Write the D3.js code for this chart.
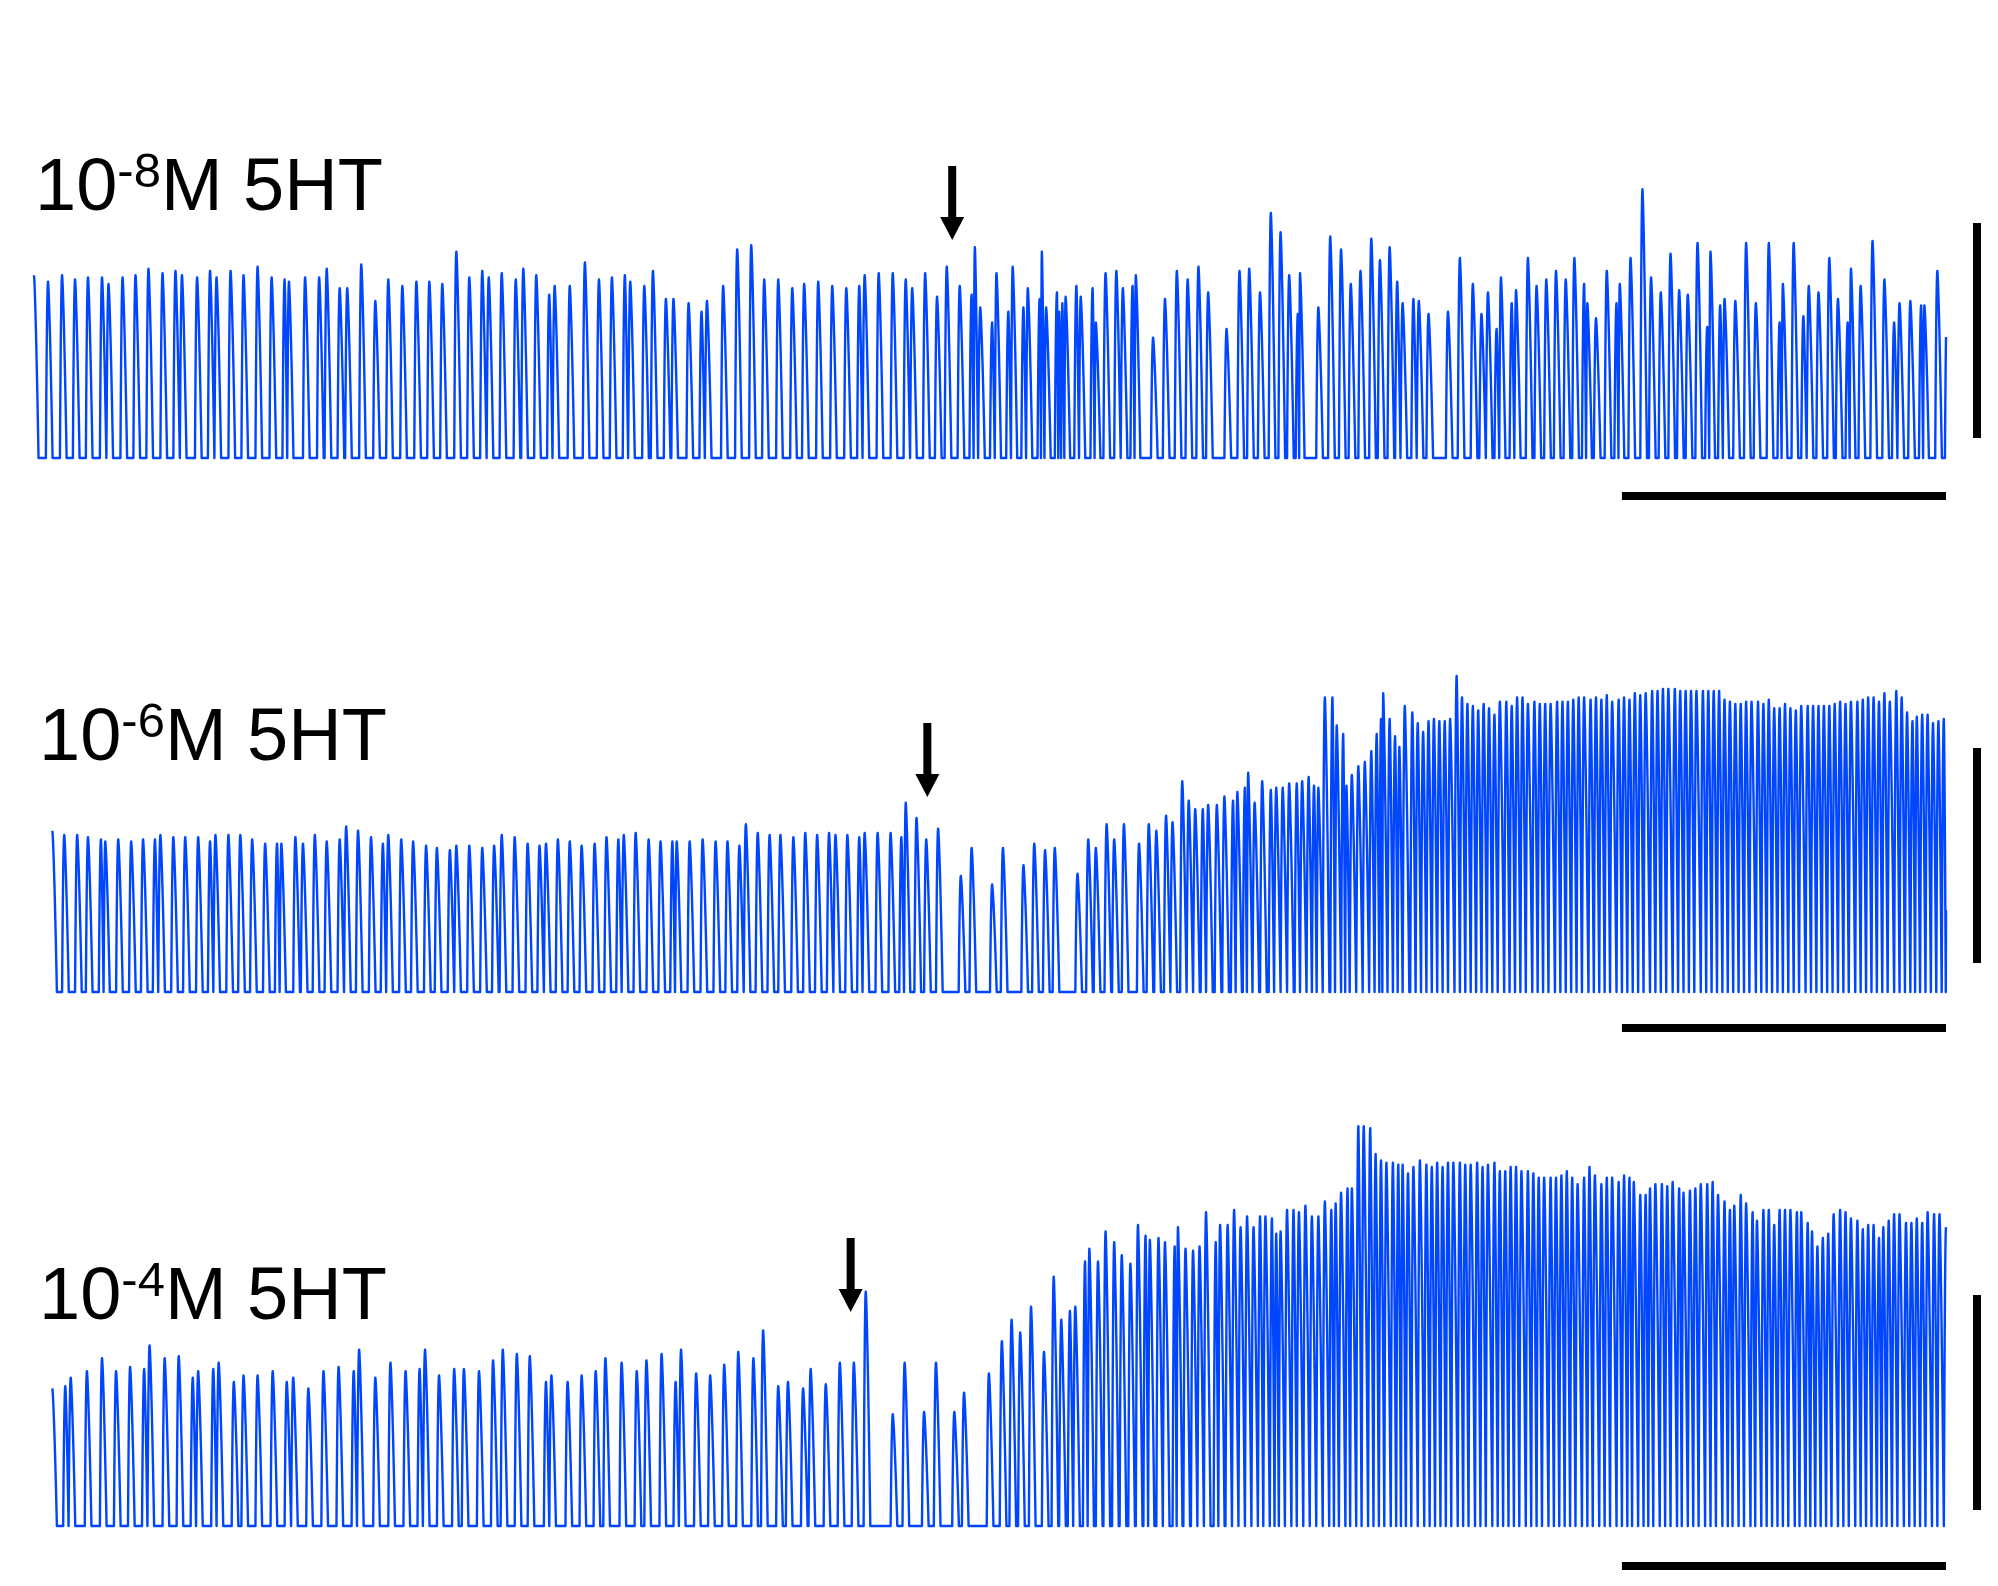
<!DOCTYPE html>
<html><head><meta charset="utf-8">
<script src="https://cdn.jsdelivr.net/npm/d3@7"></script>
<style>html,body{margin:0;padding:0;background:#fff;} svg{display:block}</style>
</head><body>
<svg id="chart" width="1998" height="1586"></svg>
<script>
// ---------------- DATA ----------------
// Panel labels: 10^exp M 5HT
const LABEL_EXPONENTS = ["-8", "-6", "-4"];
const LABEL_BASE = "10";
const LABEL_UNIT = "M 5HT";

// Peak times (s) and peak amplitudes (units of the vertical scale bar) for each trace
const T1_TIMES = [0,13,26,38,50,63,69,82,94,106,
119,131,137,151,163,169,182,194,207,220,
232,236,251,264,271,283,290,303,316,328,
341,354,366,378,391,403,415,421,433,446,
453,465,477,482,496,510,523,535,547,552,
565,573,585,592,606,618,623,638,651,664,
676,689,702,713,726,739,752,764,769,782,
795,807,813,825,836,845,857,868,871,876,
887,891,902,906,916,920,931,933,937,947,
949,952,955,965,969,980,983,992,1002,1008,
1017,1020,1036,1047,1058,1068,1078,1087,1104,1116,
1125,1135,1145,1154,1162,1170,1172,1189,1200,1210,
1219,1228,1238,1246,1255,1262,1267,1277,1282,1291,
1309,1320,1332,1340,1346,1354,1358,1368,1372,1383,
1391,1400,1409,1418,1426,1435,1438,1446,1456,1465,
1468,1478,1489,1497,1506,1515,1523,1531,1540,1549,
1552,1561,1565,1575,1585,1594,1606,1616,1619,1629,
1638,1643,1652,1662,1670,1679,1682,1691,1702,1713,
1722,1727,1737,1747,1750,1762,1771];
const T1_AMPS = [0.85,0.82,0.85,0.83,0.84,0.84,0.81,0.84,0.85,0.88,
0.86,0.87,0.85,0.84,0.87,0.84,0.87,0.85,0.89,0.84,
0.83,0.82,0.84,0.84,0.88,0.79,0.79,0.90,0.73,0.83,
0.80,0.82,0.82,0.81,0.96,0.84,0.87,0.84,0.86,0.83,
0.88,0.85,0.76,0.80,0.80,0.91,0.83,0.84,0.85,0.82,
0.80,0.87,0.74,0.74,0.72,0.68,0.73,0.80,0.97,0.99,
0.83,0.83,0.79,0.81,0.82,0.80,0.79,0.80,0.85,0.86,
0.86,0.83,0.79,0.86,0.75,0.89,0.80,0.76,0.98,0.70,
0.63,0.86,0.68,0.89,0.70,0.79,0.74,0.96,0.70,0.77,
0.68,0.72,0.75,0.80,0.75,0.79,0.63,0.86,0.87,0.79,
0.80,0.85,0.56,0.74,0.87,0.83,0.89,0.77,0.60,0.87,
0.88,0.77,1.14,1.05,0.85,0.67,0.86,0.70,1.03,0.97,
0.81,0.87,1.02,0.92,0.98,0.82,0.72,0.74,0.73,0.67,
0.68,0.93,0.81,0.67,0.77,0.60,0.84,0.72,0.78,0.93,
0.80,0.83,0.87,0.83,0.93,0.81,0.72,0.65,0.87,0.72,
0.81,0.93,1.25,0.84,0.77,0.95,0.78,0.76,1.00,0.61,
0.96,0.71,0.74,0.73,1.00,0.72,1.00,0.63,0.81,1.00,
0.66,0.80,0.77,0.93,0.74,0.63,0.88,0.80,1.01,0.83,
0.63,0.72,0.73,0.71,0.71,0.87,0.75];

const T2_TIMES = [17,28,40,50,62,66,78,90,101,112,
117,129,140,152,163,168,180,191,202,214,
225,229,242,249,260,271,283,289,300,312,
323,328,340,351,363,373,385,391,403,415,
426,433,445,457,468,474,485,496,507,519,
530,541,546,557,569,580,591,595,607,619,
631,642,653,659,670,681,691,703,714,725,
736,742,753,764,769,781,793,803,807,817,
826,837,858,868,887,897,916,926,936,945,
966,976,983,993,1000,1009,1023,1032,1039,1048,
1054,1063,1069,1075,1082,1087,1095,1102,1110,1114,
1121,1124,1130,1137,1145,1150,1156,1162,1169,1174,
1180,1185,1189,1195,1202,1206,1212,1215,1220,1226,
1232,1238,1243,1247,1249,1255,1260,1264,1269,1276,
1281,1286,1291,1296,1301,1306,1311,1317,1322,1327,
1332,1337,1342,1347,1352,1357,1363,1368,1373,1378,
1383,1389,1394,1399,1404,1410,1415,1420,1425,1430,
1435,1441,1446,1451,1456,1461,1467,1472,1477,1482,
1487,1492,1498,1503,1508,1513,1519,1524,1529,1534,
1539,1545,1550,1555,1560,1565,1570,1575,1580,1585,
1590,1596,1601,1606,1611,1616,1621,1626,1631,1636,
1642,1647,1652,1657,1662,1667,1672,1677,1682,1688,
1693,1698,1703,1708,1713,1718,1724,1729,1734,1739,
1743,1748,1753,1758,1763,1768,1771];
const T2_AMPS = [0.75,0.73,0.73,0.72,0.71,0.70,0.71,0.70,0.71,0.71,
0.73,0.72,0.72,0.72,0.70,0.73,0.73,0.73,0.71,0.69,
0.69,0.69,0.72,0.69,0.73,0.70,0.71,0.77,0.75,0.72,
0.69,0.73,0.71,0.70,0.68,0.67,0.66,0.68,0.68,0.67,
0.68,0.73,0.72,0.69,0.68,0.69,0.71,0.70,0.68,0.69,
0.72,0.71,0.73,0.74,0.71,0.70,0.70,0.70,0.70,0.71,
0.70,0.70,0.68,0.78,0.74,0.73,0.73,0.72,0.74,0.73,
0.74,0.73,0.73,0.72,0.74,0.74,0.74,0.72,0.88,0.81,
0.71,0.76,0.54,0.67,0.50,0.67,0.59,0.69,0.66,0.67,
0.55,0.71,0.67,0.78,0.71,0.78,0.69,0.78,0.75,0.82,
0.79,0.98,0.89,0.85,0.85,0.87,0.87,0.91,0.89,0.93,
0.95,1.02,0.88,0.98,0.94,0.95,0.95,0.97,0.97,0.98,
1.00,0.96,0.95,1.37,1.37,1.24,1.20,0.96,1.01,1.05,
1.07,1.12,1.20,1.27,1.39,1.27,1.19,1.14,1.33,1.30,
1.25,1.21,1.26,1.27,1.26,1.26,1.27,1.47,1.37,1.34,
1.33,1.31,1.34,1.32,1.29,1.35,1.35,1.33,1.37,1.37,
1.34,1.35,1.34,1.34,1.34,1.35,1.35,1.35,1.36,1.37,
1.37,1.36,1.37,1.36,1.38,1.35,1.36,1.37,1.36,1.39,
1.38,1.39,1.40,1.40,1.41,1.41,1.41,1.40,1.40,1.40,
1.40,1.40,1.40,1.40,1.40,1.36,1.35,1.34,1.34,1.35,
1.35,1.35,1.34,1.36,1.32,1.32,1.34,1.32,1.31,1.33,
1.33,1.33,1.33,1.33,1.33,1.34,1.35,1.34,1.35,1.35,
1.36,1.37,1.37,1.35,1.39,1.35,1.40,1.37,1.30,1.26,
1.28,1.29,1.29,1.25,1.26,1.27,1.25];

const T3_TIMES = [17,29,34,49,63,76,89,102,107,121,
134,147,152,166,171,185,194,207,221,234,
240,254,268,282,296,301,316,330,344,357,
362,375,389,398,412,425,434,447,459,474,
479,494,507,520,529,544,558,567,581,594,
599,613,626,639,652,666,675,689,698,712,
719,733,746,759,770,795,806,824,835,852,
861,884,896,905,913,923,935,944,951,959,
964,973,977,985,992,1000,1007,1015,1022,1029,
1033,1041,1047,1056,1059,1066,1073,1079,1085,1094,
1098,1105,1111,1117,1123,1129,1135,1140,1146,1150,
1154,1160,1166,1171,1177,1183,1189,1195,1201,1205,
1210,1216,1220,1226,1231,1237,1242,1247,1252,1258,
1263,1267,1272,1277,1283,1289,1294,1299,1304,1309,
1314,1320,1325,1330,1336,1341,1346,1352,1357,1362,
1367,1372,1377,1383,1388,1393,1398,1404,1409,1414,
1419,1424,1429,1435,1440,1445,1451,1456,1461,1467,
1472,1477,1481,1487,1492,1496,1501,1507,1512,1517,
1523,1527,1533,1538,1543,1549,1554,1559,1565,1570,
1574,1580,1585,1591,1595,1601,1606,1611,1616,1621,
1626,1632,1636,1642,1646,1651,1656,1661,1666,1672,
1677,1682,1688,1693,1698,1703,1708,1712,1717,1722,
1727,1733,1738,1743,1748,1753,1759,1764,1770];
const T3_AMPS = [0.64,0.65,0.69,0.72,0.78,0.72,0.74,0.73,0.84,0.78,
0.79,0.69,0.72,0.73,0.76,0.67,0.70,0.70,0.72,0.67,
0.69,0.64,0.72,0.74,0.72,0.82,0.69,0.76,0.72,0.73,
0.82,0.70,0.73,0.73,0.72,0.77,0.82,0.80,0.79,0.67,
0.70,0.67,0.70,0.72,0.78,0.76,0.72,0.77,0.80,0.67,
0.82,0.71,0.70,0.75,0.81,0.78,0.91,0.65,0.67,0.64,
0.73,0.66,0.76,0.76,1.09,0.52,0.76,0.53,0.76,0.53,
0.62,0.71,0.86,0.96,0.90,1.02,0.81,1.16,0.96,1.00,
1.02,1.23,1.29,1.23,1.37,1.32,1.26,1.22,1.40,1.35,
1.33,1.34,1.32,1.30,1.39,1.29,1.28,1.30,1.46,1.32,
1.40,1.40,1.47,1.39,1.44,1.39,1.44,1.44,1.43,1.36,
1.37,1.47,1.47,1.46,1.49,1.44,1.44,1.51,1.47,1.50,
1.55,1.57,1.57,1.86,1.86,1.85,1.73,1.70,1.69,1.69,
1.68,1.68,1.64,1.67,1.70,1.68,1.67,1.69,1.67,1.69,
1.69,1.69,1.68,1.68,1.69,1.67,1.68,1.69,1.65,1.65,
1.67,1.67,1.65,1.65,1.64,1.62,1.62,1.62,1.62,1.63,
1.65,1.62,1.59,1.62,1.67,1.63,1.59,1.62,1.62,1.60,
1.63,1.62,1.60,1.54,1.54,1.57,1.59,1.59,1.58,1.60,
1.57,1.55,1.56,1.57,1.59,1.59,1.60,1.54,1.51,1.47,
1.49,1.54,1.50,1.46,1.42,1.47,1.47,1.40,1.47,1.47,
1.47,1.46,1.46,1.41,1.37,1.30,1.34,1.36,1.45,1.47,
1.46,1.43,1.42,1.38,1.40,1.40,1.34,1.39,1.42,1.45,
1.45,1.41,1.41,1.43,1.41,1.46,1.45,1.45,1.39];

const TRACE_START = [0, 17, 17];   // s
const TRACE_END = 1770;            // s
const ARROW_TIMES = [850, 827, 756]; // s, drug addition
const SCALEBAR_TIME = 300;         // s (5 min)
const SCALEBAR_AMP = 1;            // amplitude unit

// ---------------- LAYOUT ----------------
const ampPx = 215;
const panels = [
  {times:T1_TIMES, amps:T1_AMPS, base:458, labelX:35, labelY:210, arrowTip:240, vbarBottom:438, hbarY:496},
  {times:T2_TIMES, amps:T2_AMPS, base:992, labelX:39, labelY:760, arrowTip:797, vbarBottom:963, hbarY:1028},
  {times:T3_TIMES, amps:T3_AMPS, base:1526, labelX:39, labelY:1319, arrowTip:1312, vbarBottom:1510, hbarY:1566}
];
const COLOR = "#0046ff";
const FONT = "'Liberation Sans', Arial, Helvetica, sans-serif";

const svg = d3.select("#chart");
svg.append("rect").attr("width",1998).attr("height",1586).attr("fill","#fff");

const x = d3.scaleLinear().domain([0, TRACE_END]).range([34, 1946]);

// pulse rendering: fast rise with rounded top, then quick fall back to rest
function waveform(times, amps, t0, t1){
  const step = 0.2;
  const n = Math.round((t1 - t0)/step) + 1;
  const v = new Float64Array(n);
  const R = 2.0, D = 4.2;
  const m = Math.min(times.length, amps.length);
  const rise = times.map((tp, i) => Math.min(R, 0.4*(i > 0 ? tp - times[i-1] : 99)));
  for (let i = 0; i < m; i++){
    const tp = times[i], A = amps[i];
    const gn = i < m-1 ? times[i+1] - tp : 99;
    const r = rise[i];
    const rn = i < m-1 ? rise[i+1] : R;
    const d = Math.max(0.6, Math.min(D, gn - rn));
    const a = Math.max(0, Math.ceil((tp - r - t0)/step - 1e-9));
    const b = Math.min(n-1, Math.floor((tp + d - t0)/step + 1e-9));
    for (let k = a; k <= b; k++){
      const u = t0 + k*step - tp;
      let s;
      if (u < 0) { const w = Math.max(0, (u + r)/r); s = 1 - Math.pow(1 - w, 2.0); }
      else { const w = Math.min(1, u/d); s = 1 - Math.pow(w, 1.4); }
      const val = A*s;
      if (val > v[k]) v[k] = val;
    }
  }
  return Array.from(v, (val, k) => ({t: t0 + k*step, v: val}));
}

panels.forEach((p, i) => {
  const y = d3.scaleLinear().domain([0, 1]).range([p.base, p.base - ampPx]);
  const pts = waveform(p.times, p.amps, TRACE_START[i], TRACE_END);
  const line = d3.line().x(d => x(d.t)).y(d => y(d.v));
  svg.append("path").datum(pts)
    .attr("d", line)
    .attr("fill", "none")
    .attr("stroke", COLOR)
    .attr("stroke-width", 2.4)
    .attr("stroke-linejoin", "round");

  // label
  const txt = svg.append("text")
    .attr("x", p.labelX).attr("y", p.labelY)
    .attr("font-family", FONT).attr("font-size", 74).attr("fill", "#000");
  txt.append("tspan").text(LABEL_BASE);
  txt.append("tspan").attr("font-size", 49).attr("dy", -23).text(LABEL_EXPONENTS[i]);
  txt.append("tspan").attr("font-size", 74).attr("dy", 23).text(LABEL_UNIT);

  // arrow (drug addition)
  const ax = x(ARROW_TIMES[i]);
  const tip = p.arrowTip;
  svg.append("rect").attr("x", ax - 4).attr("y", tip - 74).attr("width", 8).attr("height", 52).attr("fill", "#000");
  svg.append("path").attr("d", `M${ax-12},${tip-23}L${ax+12},${tip-23}L${ax},${tip}Z`).attr("fill", "#000");

  // vertical scale bar
  const barH = y(0) - y(SCALEBAR_AMP);
  svg.append("rect").attr("x", 1973).attr("y", p.vbarBottom - barH).attr("width", 8).attr("height", barH).attr("fill", "#000");
  // horizontal scale bar
  const hx0 = x(TRACE_END - SCALEBAR_TIME), hx1 = x(TRACE_END);
  svg.append("rect").attr("x", hx0).attr("y", p.hbarY - 4).attr("width", hx1 - hx0).attr("height", 8).attr("fill", "#000");
});
</script>
</body></html>
